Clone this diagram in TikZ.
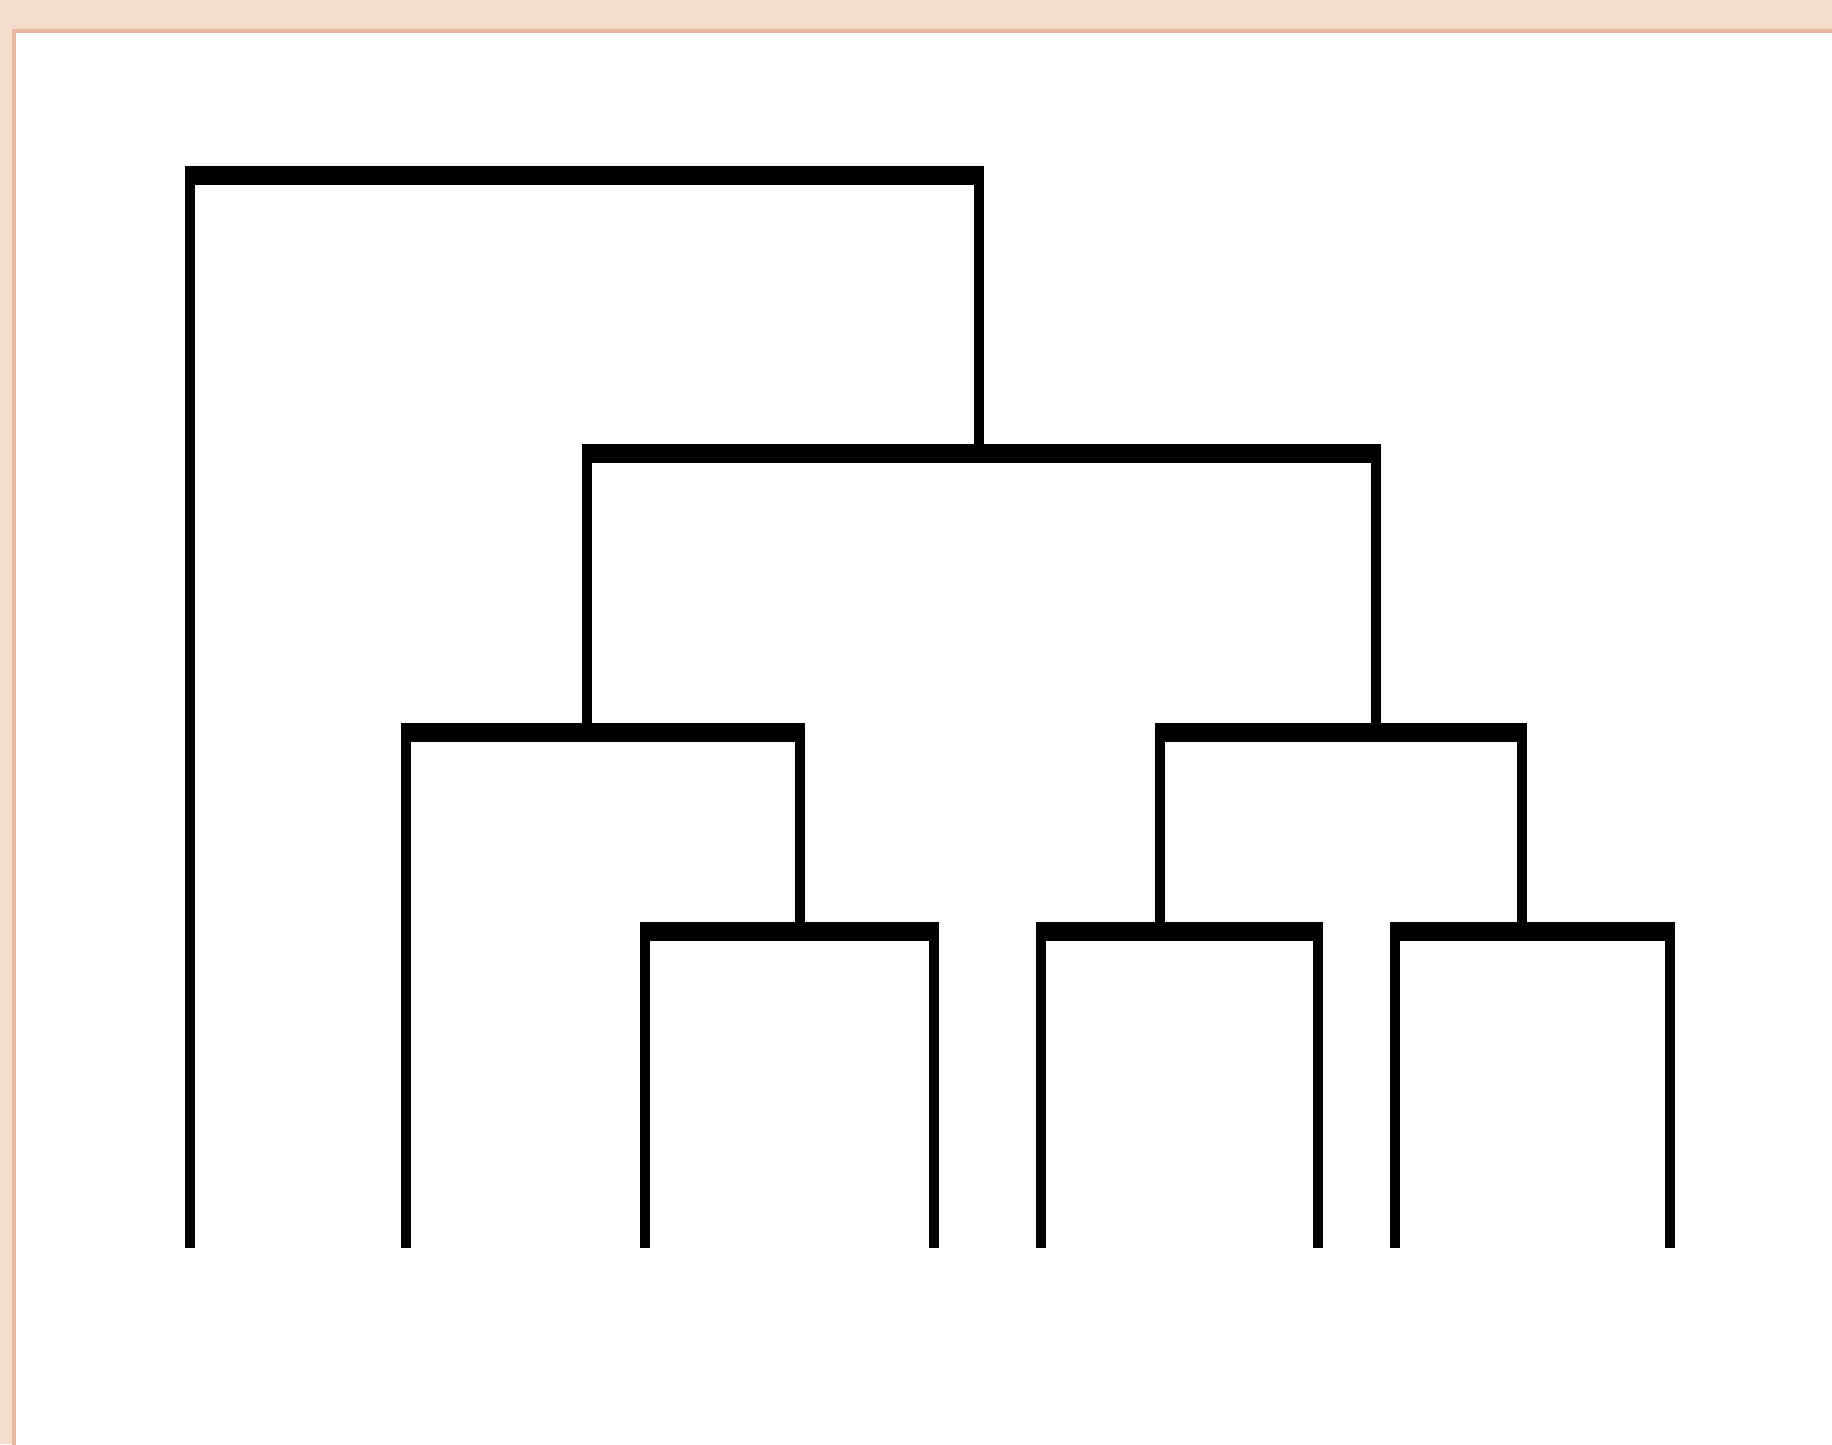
\documentclass[tikz,border=0pt]{standalone}
\usetikzlibrary{calc}

\definecolor{fundo}{HTML}{F2DCCB}
\definecolor{borda}{HTML}{E6B6A0}

\begin{document}
\begin{tikzpicture}[
  x=0.01cm, y=-0.01cm,
  haste/.style={line width=0.1cm},
  barra/.style={fill=black},
  painel/.style={fill=white, draw=borda, line width=0.04cm}
]

% Parâmetros gerais
\def\meia{5}      % meia largura da haste
\def\espessura{19} % espessura da barra horizontal

% ==========================================================
% Fundo e painel
% ==========================================================
\clip (0,0) rectangle (1832,1444);
\fill[fundo] (0,0) rectangle (1832,1444);
\draw[painel] (14,31) rectangle (1860,1470);

% ==========================================================
% Folhas e barras do dendrograma
% ==========================================================
\foreach \n/\x in {1/190,2/405.7,3/644.7,4/934.4,5/1040.7,6/1317.5,7/1394.6,8/1670.2}
  \coordinate (f\n) at (\x,1248);

\foreach \n/\a/\b/\y in {
  1/190/979/166,
  2/587/1375.7/444,
  3/405.7/800/723,
  4/1160/1521.7/723,
  5/644.7/934.4/922,
  6/1040.7/1317.5/922,
  7/1394.6/1670.2/922
}{
  \coordinate (b\n e) at (\a,\y);
  \coordinate (b\n d) at (\b,\y);
  \fill[barra] ($(b\n e)+(-\meia,0)$) rectangle ($(b\n d)+(\meia,\espessura)$);
}

% ==========================================================
% Hastes verticais
% ==========================================================
\draw[haste] (b1e) -- (f1);
\draw[haste] (b1d) -- (b1d |- b2e);
\draw[haste] (b2e) -- (b2e |- b3e);
\draw[haste] (b2d) -- (b2d |- b4e);
\draw[haste] (b3e) -- (f2);
\draw[haste] (b3d) -- (b3d |- b5e);
\draw[haste] (b4e) -- (b4e |- b6e);
\draw[haste] (b4d) -- (b4d |- b7e);

\foreach \n/\i/\j in {5/3/4,6/5/6,7/7/8}{
  \draw[haste] (b\n e) -- (f\i);
  \draw[haste] (b\n d) -- (f\j);
}

\end{tikzpicture}
\end{document}
